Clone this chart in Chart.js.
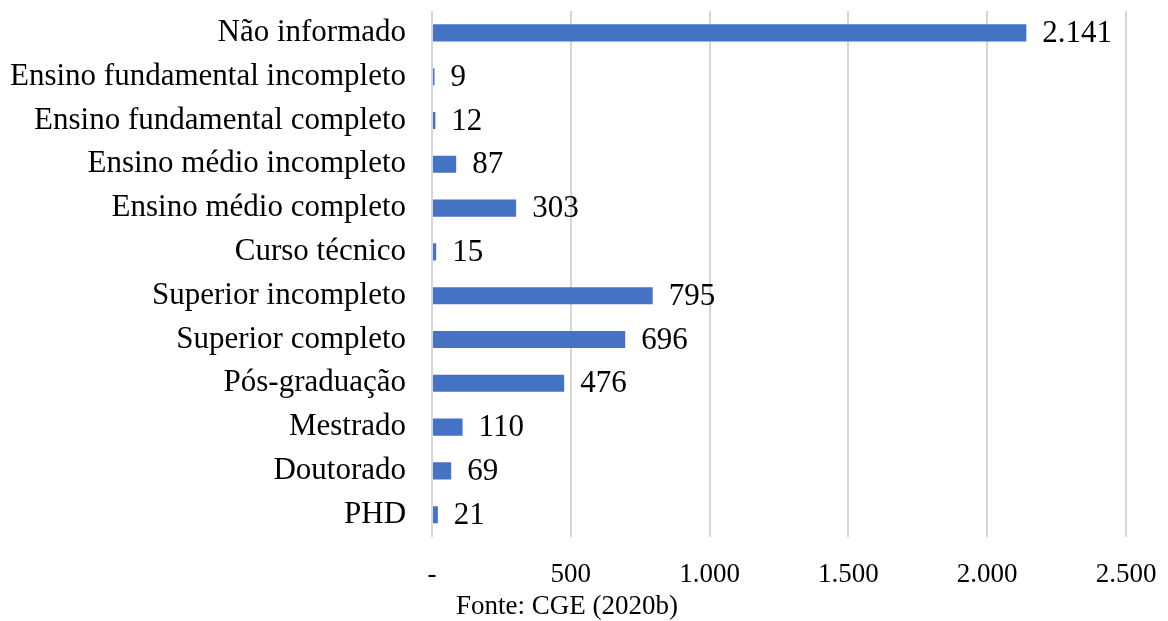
<!DOCTYPE html>
<html lang="pt">
<head>
  <meta charset="UTF-8" />
  <title>Escolaridade</title>
  <script src="https://cdn.jsdelivr.net/npm/chart.js"></script>
  <style>
    body { margin: 0; background: #fff; }
    #wrap { position: relative; width: 1168px; height: 621px; }
    #fonte {
      position: absolute; left: 0; width: 1134px; top: 590px;
      text-align: center; font-family: "Liberation Serif", serif; font-size: 27px; color: #000;
    }
  </style>
</head>
<body>
  <div id="wrap">
    <canvas id="grafico" width="1168" height="621"></canvas>
    <div id="fonte">Fonte: CGE (2020b)</div>
  </div>

  <script>
    const categorias = [
      "Não informado",
      "Ensino fundamental incompleto",
      "Ensino fundamental completo",
      "Ensino médio incompleto",
      "Ensino médio completo",
      "Curso técnico",
      "Superior incompleto",
      "Superior completo",
      "Pós-graduação",
      "Mestrado",
      "Doutorado",
      "PHD"
    ];
    const quantidades = [2141, 9, 12, 87, 303, 15, 795, 696, 476, 110, 69, 21];
    const ticksX = [0, 500, 1000, 1500, 2000, 2500];

    function formatar(v) {
      if (v === 0) return "-";
      return v.toString().replace(/\B(?=(\d{3})+(?!\d))/g, ".");
    }

    const rotulos = {
      id: "rotulos",
      afterDatasetsDraw(chart) {
        const ctx = chart.ctx;
        const meta = chart.getDatasetMeta(0);
        ctx.save();
        ctx.font = '31px "Liberation Serif"';
        ctx.fillStyle = "#000";
        ctx.textBaseline = "middle";
        ctx.textAlign = "left";
        meta.data.forEach((bar, i) => {
          ctx.fillText(formatar(quantidades[i]), bar.x + 16, bar.y + 1);
        });
        ctx.restore();
      }
    };

    new Chart(document.getElementById("grafico"), {
      type: "bar",
      data: {
        labels: categorias,
        datasets: [{
          data: quantidades,
          backgroundColor: "#4472C4",
          barPercentage: 0.78,
          categoryPercentage: 0.5
        }]
      },
      options: {
        indexAxis: "y",
        responsive: false,
        animation: false,
        layout: { padding: { top: 11, right: 42, bottom: 30, left: 10 } },
        plugins: { legend: { display: false }, tooltip: { enabled: false } },
        scales: {
          x: {
            min: 0,
            max: 2500,
            afterBuildTicks(axis) { axis.ticks = ticksX.map(v => ({ value: v })); },
            grid: { color: "#d6d6d6", lineWidth: 2, drawTicks: true, tickLength: 22, tickColor: "transparent" },
            border: { display: false },
            ticks: {
              padding: 0,
              color: "#000",
              font: { family: "Liberation Serif", size: 27 },
              callback: v => formatar(v)
            }
          },
          y: {
            grid: { display: true, drawOnChartArea: false, drawTicks: true, tickLength: 26, color: "transparent" },
            border: { display: false },
            ticks: {
              padding: 0,
              color: "#000",
              font: { family: "Liberation Serif", size: 31, lineHeight: 0.7 }
            }
          }
        }
      },
      plugins: [rotulos]
    });
  </script>
</body>
</html>
